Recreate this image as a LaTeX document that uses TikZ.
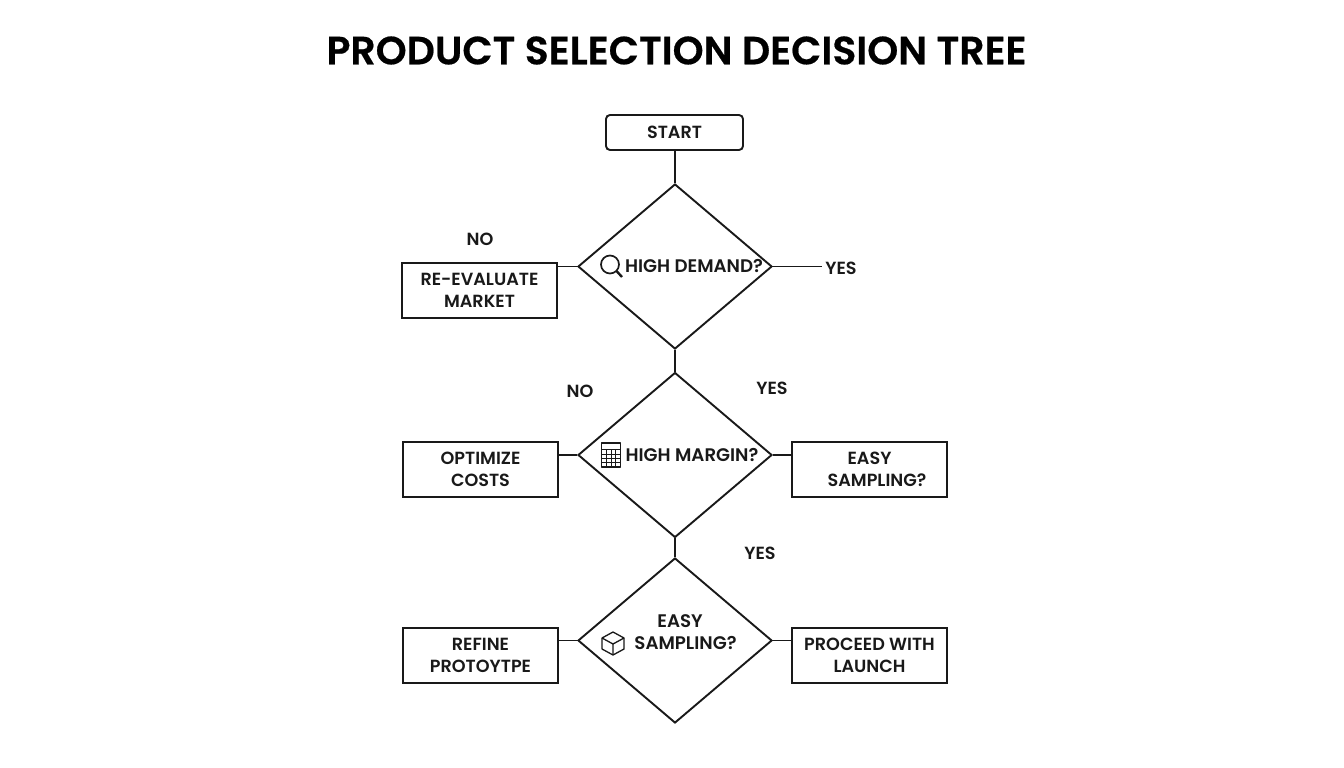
\documentclass[tikz,border=0pt]{standalone}
\usepackage{fontspec}
\setmainfont{Poppins}[UprightFont=* SemiBold,BoldFont=* SemiBold]
\newfontfamily\titlefont{Poppins}[UprightFont=* SemiBold,BoldFont=* SemiBold,FakeBold=0.5]
\usetikzlibrary{shapes.geometric}
\tikzset{
  ink/.style={draw=black!90,line width=1.9pt},
  decide/.style={ink,shape=diamond,inner sep=0pt,minimum width=194pt,minimum height=165pt},
  outcome/.style={ink,rectangle,inner sep=0pt,minimum width=155pt,minimum height=55pt,align=center,labeltext},
  labeltext/.style={font=\fontsize{17.6}{22}\selectfont,text=black!90,align=center},
  decidetext/.style={font=\fontsize{18.2}{22}\selectfont,text=black!90,align=center},
  linkline/.style={ink},
  iconline/.style={draw=black!90,line width=1.3pt,line join=round}
}
\begin{document}
\begin{tikzpicture}[x=1pt,y=-1pt]
\useasboundingbox[fill=white] (0,0) rectangle (1344,768);
\node[font=\fontsize{39.4}{42}\titlefont,text=black] (title) at (676.5,50.5) {PRODUCT SELECTION DECISION TREE};

\node[ink,rectangle,rounded corners=4pt,minimum width=137pt,minimum height=35pt,inner sep=0pt,labeltext] (start) at (674.5,132.5) {START};
\node[decide] (d1) at (675,266.5) {};
\node[decide] (d2) at (675,455) {};
\node[decide] (d3) at (675,640.5) {};

\node[outcome] (reeval) at (479.5,290.5) {RE-EVALUATE\\MARKET};
\node[outcome] (optim) at (480.5,469.5) {OPTIMIZE\\COSTS};
\node[outcome] (easybox) at (869.5,469.5) {EASY\\\hspace*{15pt}SAMPLING?};
\node[outcome] (refine) at (480.5,655.5) {REFINE\\PROTOYTPE};
\node[outcome] (proceed) at (869.5,655.5) {PROCEED WITH\\LAUNCH};

\node[decidetext] (l1) at (694,266) {HIGH DEMAND?};
\node[decidetext] (l2) at (692,454.5) {HIGH MARGIN?};
\node[decidetext] (l3) at (680,632) {EASY\\\hspace*{11pt}SAMPLING?};

\node[labeltext] (no1) at (480,239) {NO};
\node[labeltext] (yes1) at (841,268) {YES};
\node[labeltext] (no2) at (580,391) {NO};
\node[labeltext] (yes2) at (772,388) {YES};
\node[labeltext] (yes3) at (760,553) {YES};

\draw[linkline] (start.south -| d1.north) -- (d1.north);
\draw[linkline] (d1.south) -- (d2.north);
\draw[linkline] (d2.south) -- (d3.north);
\draw[linkline] (d1.west) -- (reeval.east |- d1.west);
\draw[linkline] (d1.east) -- (yes1.west |- d1.east);
\draw[linkline] (d2.west) -- (optim.east |- d2.west);
\draw[linkline] (d2.east) -- (easybox.west |- d2.east);
\draw[linkline] (d3.west) -- (refine.east |- d3.west);
\draw[linkline] (d3.east) -- (proceed.west |- d3.east);

% magnifier
\draw[iconline,line width=1.7pt] (610,264.5) circle (9pt);
\draw[iconline,line width=2.4pt] (616.5,271) -- (622,277);
% calculator
\draw[iconline] (601.5,443) rectangle (620.5,467);
\foreach \yy in {449,454,458,462.5} \draw[iconline,line width=1pt] (601.5,\yy) -- (620.5,\yy);
\foreach \xx in {606.5,611,615.5} \draw[iconline,line width=1pt] (\xx,449) -- (\xx,467);
% cube
\draw[iconline] (613,632) -- (624,638) -- (624,649) -- (613,655) -- (602,649) -- (602,638) -- cycle;
\draw[iconline] (602,638) -- (613,644) -- (624,638) (613,644) -- (613,655);
\end{tikzpicture}
\end{document}
